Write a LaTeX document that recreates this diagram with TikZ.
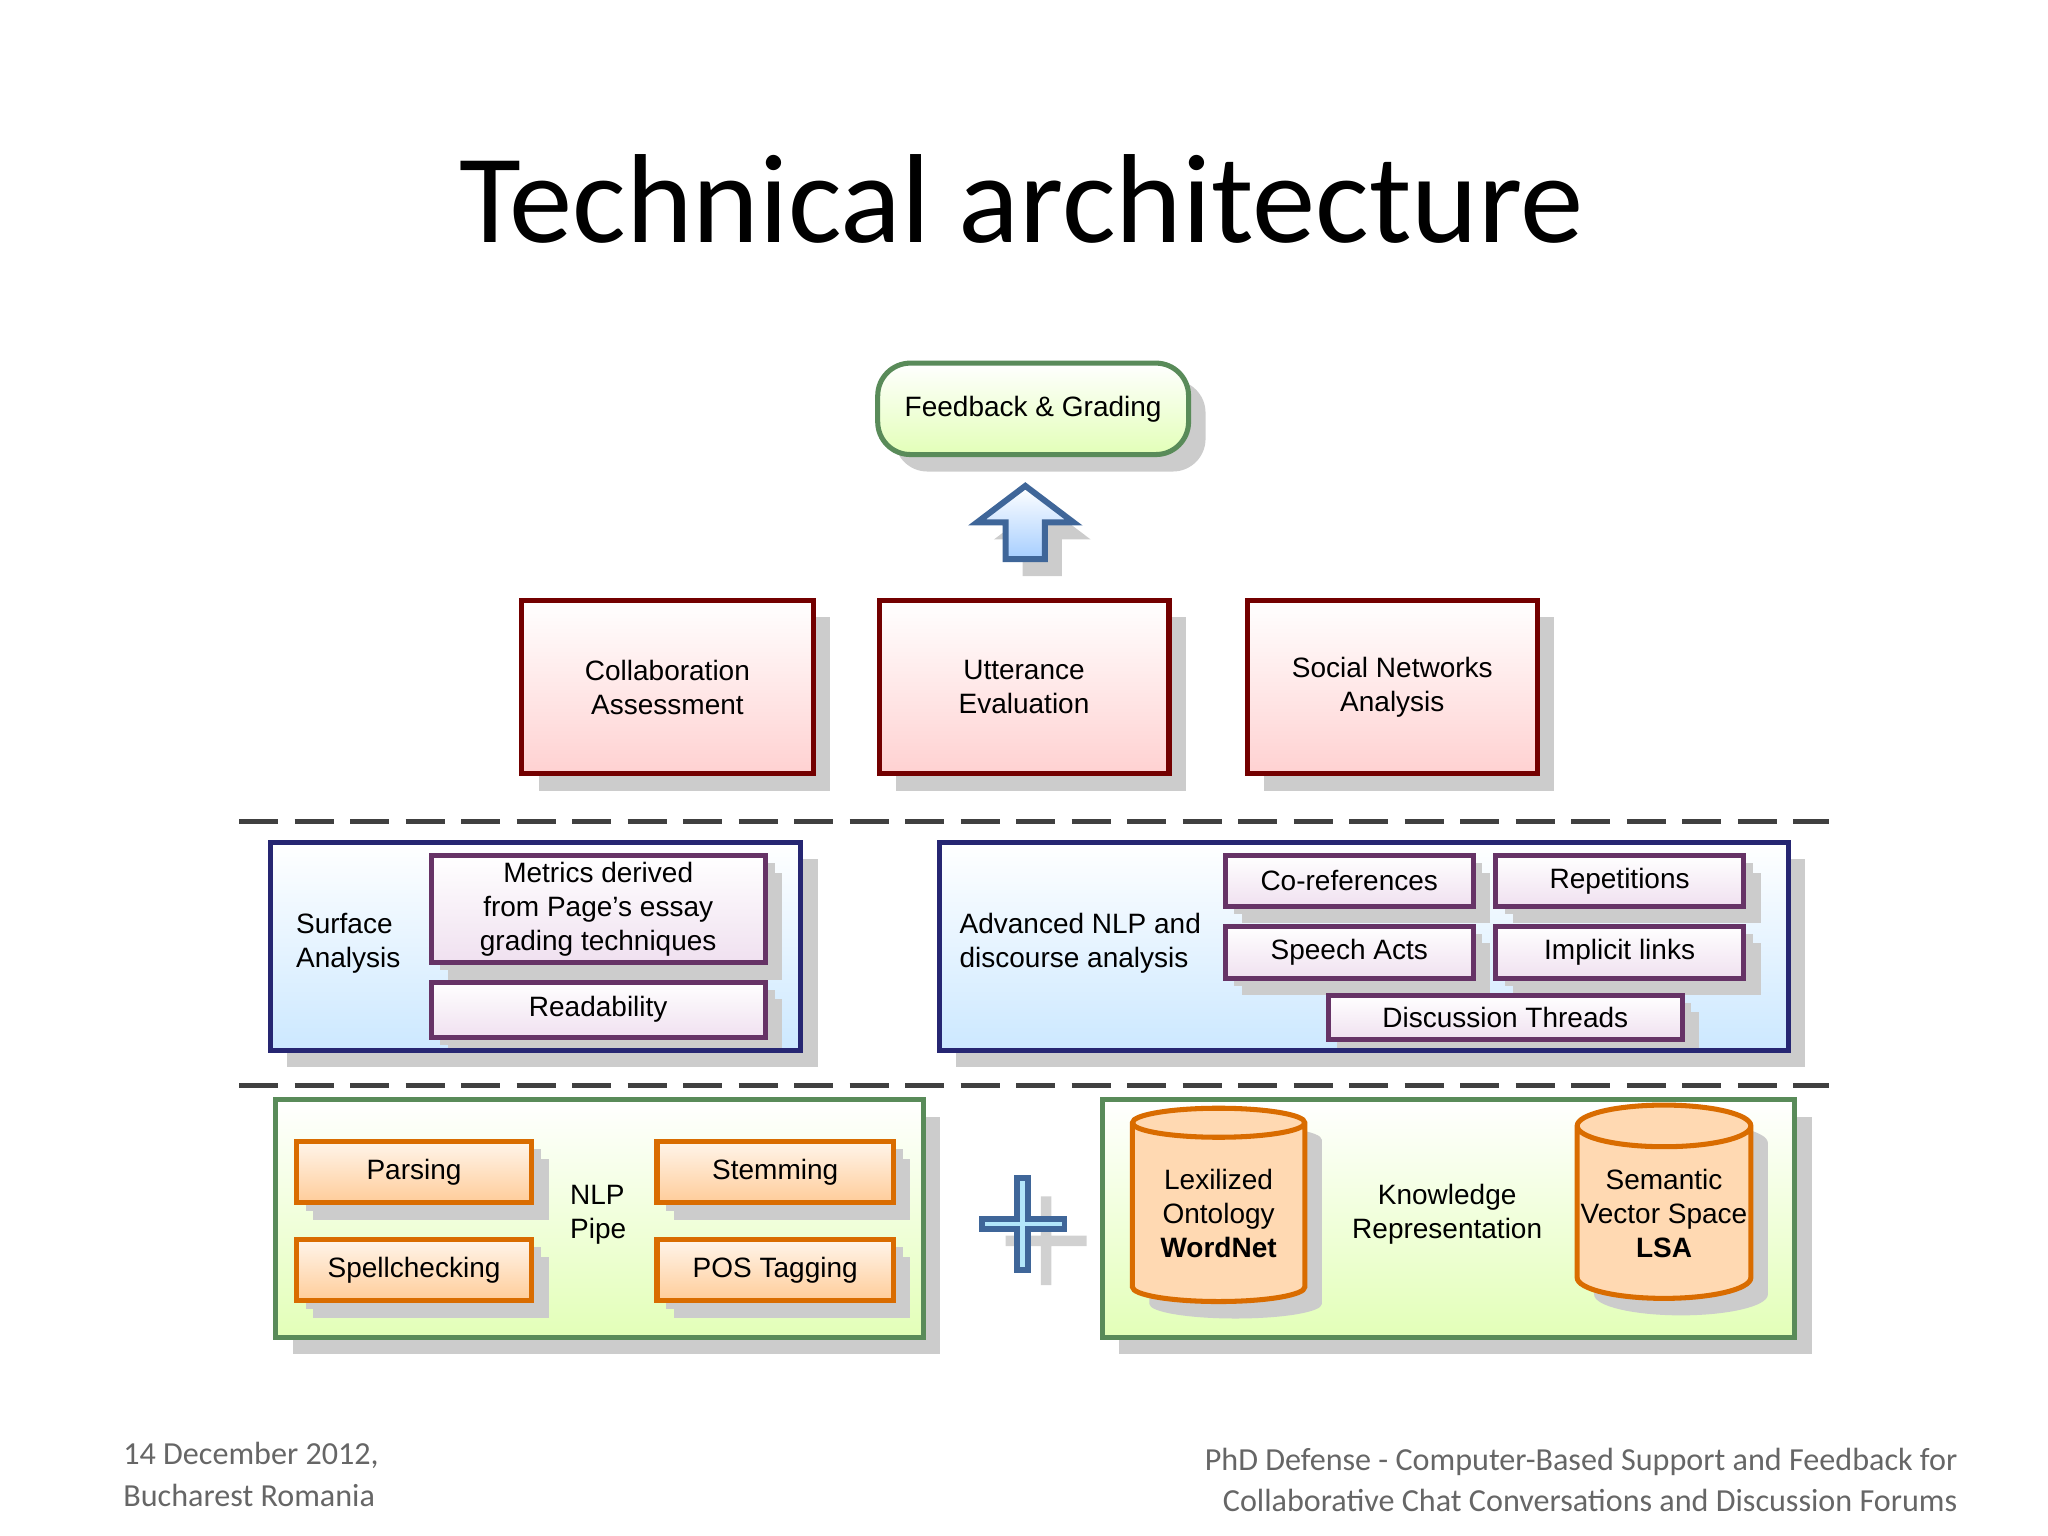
\documentclass[tikz,border=0pt]{standalone}
\usepackage{fontspec}
\setmainfont{Liberation Sans}
\newfontfamily\carl{Carlito}
\usetikzlibrary{shadows,shapes.geometric}
\begin{document}
\begin{tikzpicture}[x=0.1mm,y=-0.1mm,
  sh/.style={drop shadow={shadow xshift=1.3mm,shadow yshift=-1.3mm,fill=black!20,opacity=1}},
  shs/.style={drop shadow={shadow xshift=0.7mm,shadow yshift=-0.6mm,fill=black!20,opacity=1}},
  txt/.style={font=\fontsize{6.1}{7.4}\selectfont,inner sep=0pt},
  bx/.style={draw,line width=1.1pt,font=\fontsize{6.1}{7.4}\selectfont,align=center,inner sep=0pt,sh},
  green/.style={bx,draw=green!30!black!65,top color=white,bottom color=green!40!yellow!28},
  red/.style={bx,draw=red!45!black,top color=white,bottom color=red!18},
  blue/.style={bx,outer sep=0pt,draw=blue!35!black!85,top color=white,bottom color=blue!45!cyan!20},
  lav/.style={bx,shs,draw=violet!50!black!80,top color=white,bottom color=violet!12},
  ora/.style={bx,shs,draw=orange!85!black,top color=orange!8,bottom color=orange!40},
  frame/.style={line width=1.1pt,draw=blue!35!black!85},
  dsh/.style={line width=1.1pt,black!75,dash pattern=on 3mm off 1.25mm}]
\useasboundingbox (0,0) rectangle (1568,1176);
\node[font=\carl\fontsize{27.6}{30}\selectfont] (title) at (782,152) {Technical architecture};
% top
\node[green,rounded corners=2.5mm,minimum width=23.8mm,minimum height=7mm] (fg) at (791,313) {Feedback \& Grading};
\node[red,minimum width=22.3mm,minimum height=13.3mm] (ca) at (511,526) {Collaboration\\Assessment};
\node[red,minimum width=22.2mm,minimum height=13.3mm] (ue) at (784,526) {Utterance\\Evaluation};
\node[red,minimum width=22.2mm,minimum height=13.3mm] (sn) at (1066,526) {Social Networks\\Analysis};
% up arrow
\draw[line width=1.3pt,draw=cyan!50!blue!70!black,top color=white,bottom color=cyan!45!blue!35,sh]
 (748,400)--(785,372)--(822,400)--(800,400)--(800,428)--(770,428)--(770,400)--cycle;
\node[coordinate] (arr) at (785,372) {};
% dashed lines
\draw[dsh] (183,629)--(1400,629);
\draw[dsh] (183,831)--(1400,831);
% surface
\node[blue,minimum width=40.6mm,minimum height=15.9mm] (sa) at (410,724.5) {};
\node[txt,align=left,anchor=west] (sat) at (226,722) {Surface\\Analysis};
\node[lav,minimum width=25.6mm,minimum height=8.2mm] (met) at (458,696) {Metrics derived\\from Page’s essay\\grading techniques};
\node[lav,minimum width=25.6mm,minimum height=4.2mm] (rd) at (458,773) {Readability};
\draw[frame] (sa.south west) rectangle (sa.north east);
% advanced
\node[blue,minimum width=65mm,minimum height=15.9mm] (an) at (1044,724.5) {};
\node[txt,align=left,anchor=west] (ant) at (734,722) {Advanced NLP and\\discourse analysis};
\node[lav,minimum width=19mm,minimum height=3.9mm] (cr) at (1033,674.5) {Co-references};
\node[lav,minimum width=19mm,minimum height=3.9mm] (rp) at (1240,674.5) {Repetitions};
\node[lav,minimum width=19mm,minimum height=4mm] (spa) at (1033,729) {Speech Acts};
\node[lav,minimum width=19mm,minimum height=4mm] (il) at (1240,729) {Implicit links};
\node[lav,minimum width=27.1mm,minimum height=3.4mm] (dt) at (1152.5,779) {Discussion Threads};
\draw[frame] (an.south west) rectangle (an.north east);
% NLP
\node[green,minimum width=49.6mm,minimum height=18.2mm] (nlp) at (459,933) {};
\node[txt,align=left] (np) at (458,930) {NLP\\Pipe};
\node[ora,minimum width=18mm,minimum height=4.7mm] (pa) at (317,897.5) {Parsing};
\node[ora,minimum width=18mm,minimum height=4.7mm] (sp) at (317,972.5) {Spellchecking};
\node[ora,minimum width=18.1mm,minimum height=4.7mm] (st) at (593.5,897.5) {Stemming};
\node[ora,minimum width=18.1mm,minimum height=4.7mm] (pos) at (593.5,972.5) {POS Tagging};
% plus
\fill[black!18] (797,916)--(805,916)--(805,946)--(832,946)--(832,954)--(805,954)--(805,984)--(797,984)--(797,954)--(770,954)--(770,946)--(797,946)--cycle;
\draw[line width=1.3pt,draw=cyan!50!blue!70!black,fill=cyan!30] (779,902)--(787,902)--(787,933)--(815,933)--(815,941)--(787,941)--(787,972)--(779,972)--(779,941)--(752,941)--(752,933)--(779,933)--cycle;
\node[coordinate] (plus) at (783,937) {};
% knowledge
\node[green,minimum width=53mm,minimum height=18.2mm] (kr) at (1109,933) {};
\node[txt,align=center] (krt) at (1108,930) {Knowledge\\Representation};
\tikzset{cyl/.style={cylinder,shape border rotate=90,shape aspect=0.25,draw=orange!85!black,line width=1.1pt,fill=orange!30,minimum height=14.8mm,font=\fontsize{6.1}{7.4}\selectfont,align=center,inner sep=0pt,sh}}
\node[cyl,minimum width=13.2mm] (wn) at (933,929) {Lexilized\\Ontology\\\textbf{WordNet}};
\node[cyl,minimum width=13.3mm] (lsa) at (1274,929) {Semantic\\Vector Space\\\textbf{LSA}};
% footers
\node[font=\carl\fontsize{7}{9}\selectfont,text=black!60,align=left,anchor=north west] (f1) at (82,1092) {14 December 2012,\\Bucharest Romania};
\node[font=\carl\fontsize{7}{9}\selectfont,text=black!60,align=right,anchor=north east] (f2) at (1511,1096) {PhD Defense - Computer-Based Support and Feedback for\\Collaborative Chat Conversations and Discussion Forums};
\end{tikzpicture}
\end{document}
